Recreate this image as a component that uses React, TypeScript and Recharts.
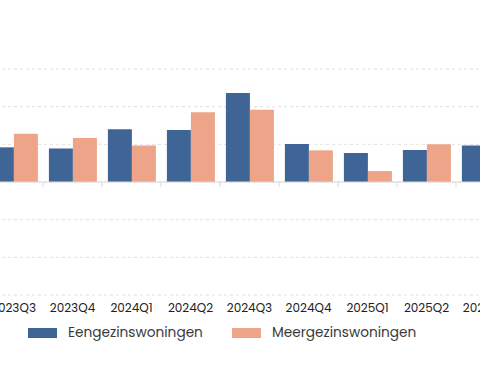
import { BarChart, Bar, XAxis, YAxis, CartesianGrid, Legend, ReferenceLine } from "recharts";

const quarters = ["2023Q3", "2023Q4", "2024Q1", "2024Q2", "2024Q3", "2024Q4", "2025Q1", "2025Q2", "2025Q3"];
const eengezins = [9.2, 8.9, 14.0, 13.8, 23.6, 10.1, 7.7, 8.5, 9.7];
const meergezins = [12.8, 11.7, 9.7, 18.5, 19.2, 8.4, 2.9, 10.0, 9.0];
const yTicks = [-30, -20, -10, 0, 10, 20, 30];

const BLUE = "#3f6597";
const SALMON = "#eea489";
const FONT = "Poppins, 'Open Sans', sans-serif";

const data = quarters.map((q, i) => ({ q, een: eengezins[i], meer: meergezins[i] }));

// zero line with small tick marks at the category boundaries
const ZeroLine = (props: any) => {
  const { x1, x2, y1 } = props;
  const step = (x2 - x1) / quarters.length;
  const marks = quarters.map((_, i) => x1 + (i + 1) * step);
  return (
    <g>
      <line x1={x1} x2={x2} y1={y1} y2={y1} stroke="#d9d9d9" strokeWidth={1} />
      {marks.map((x, i) => (
        <line key={i} x1={x} x2={x} y1={y1} y2={y1 + 5} stroke="#d9d9d9" strokeWidth={1} />
      ))}
    </g>
  );
};

const LegendContent = () => (
  <div style={{ display: "flex", alignItems: "center", fontFamily: FONT, fontSize: 13.7, color: "#3a3a3a" }}>
    <span style={{ width: 29, height: 10, background: BLUE, display: "inline-block", marginRight: 11 }} />
    <span style={{ marginRight: 29 }}>Eengezinswoningen</span>
    <span style={{ width: 29, height: 10, background: SALMON, display: "inline-block", marginRight: 11 }} />
    <span>Meergezinswoningen</span>
  </div>
);

export default function App() {
  return (
    <div style={{ position: "absolute", left: 0, top: 0, width: 480, height: 384, overflow: "hidden", background: "#fff" }}>
      <div style={{ position: "absolute", left: -16, top: 0 }}>
        <BarChart width={531} height={384} data={data} barGap={0} margin={{ top: 69, right: 0, left: 0, bottom: 39 }}>
          <CartesianGrid vertical={false} stroke="#e0e0e0" strokeDasharray="3 3" />
          <XAxis
            dataKey="q"
            interval={0}
            axisLine={false}
            tickLine={false}
            tick={{ fontSize: 12, fill: "#222", fontFamily: FONT }}
          />
          <YAxis hide domain={[-30, 30]} ticks={yTicks} />
          <ReferenceLine y={0} shape={ZeroLine} />
          <Legend
            content={LegendContent}
            wrapperStyle={{ position: "absolute", left: 44, top: 323, width: "auto", height: 20 }}
          />
          <Bar dataKey="een" name="Eengezinswoningen" fill={BLUE} isAnimationActive={false} />
          <Bar dataKey="meer" name="Meergezinswoningen" fill={SALMON} isAnimationActive={false} />
        </BarChart>
      </div>
    </div>
  );
}
